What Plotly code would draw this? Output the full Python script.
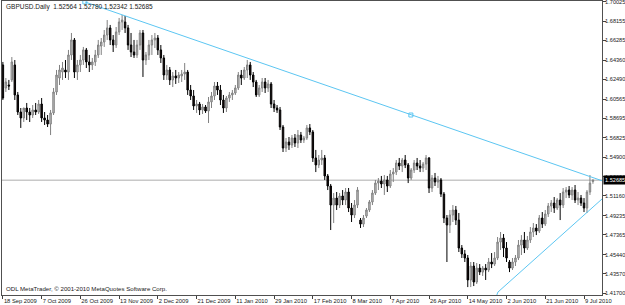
import plotly.graph_objects as go

# ---- data (GBPUSD daily) ----
opens = [1.6390,1.6166,1.6195,1.6244,1.6390,1.6098,1.5932,1.5874,1.5971,1.5932,
         1.5903,1.5952,1.5932,1.6010,1.5874,1.5854,1.5815,1.5923,1.6127,1.6263,
         1.6321,1.6341,1.6321,1.6487,1.6633,1.6321,1.6390,1.6438,1.6536,1.6419,
         1.6390,1.6419,1.6487,1.6574,1.6613,1.6681,1.6750,1.6633,1.6584,1.6711,
         1.6808,1.6808,1.6750,1.6584,1.6516,1.6487,1.6584,1.6701,1.6438,1.6487,
         1.6584,1.6633,1.6652,1.6536,1.6458,1.6292,1.6341,1.6244,1.6283,1.6263,
         1.6283,1.6302,1.6321,1.6146,1.6088,1.5991,1.6010,1.5952,1.5981,1.5942,
         1.6030,1.6088,1.6185,1.6146,1.6049,1.5971,1.6068,1.6098,1.6117,1.6166,
         1.6292,1.6263,1.6341,1.6390,1.6292,1.6224,1.6098,1.6166,1.6224,1.6166,
         1.6205,1.6010,1.5971,1.5952,1.5786,1.5582,1.5640,1.5611,1.5679,1.5631,
         1.5708,1.5660,1.5679,1.5777,1.5738,1.5485,1.5417,1.5465,1.5485,1.5310,
         1.5212,1.5027,1.5095,1.5027,1.5115,1.5076,1.5154,1.4998,1.4930,1.5027,
         1.4881,1.4842,1.4920,1.4979,1.5057,1.5144,1.5241,1.5261,1.5232,1.5271,
         1.5212,1.5329,1.5348,1.5436,1.5407,1.5465,1.5417,1.5290,1.5368,1.5436,
         1.5407,1.5387,1.5426,1.5485,1.5193,1.5290,1.5251,1.5271,1.5134,1.4901,
         1.4833,1.4930,1.4979,1.4881,1.4609,1.4551,1.4512,1.4298,1.4434,1.4278,
         1.4414,1.4375,1.4414,1.4395,1.4473,1.4453,1.4512,1.4667,1.4706,1.4609,
         1.4473,1.4414,1.4473,1.4512,1.4638,1.4687,1.4609,1.4687,1.4765,1.4804,
         1.4774,1.4901,1.4842,1.4940,1.5018,1.5047,1.4998,1.5076,1.5027,1.5154,
         1.5173,1.5125,1.5173,1.5076,1.5095,1.5047,1.4998,1.5154,1.52564]
highs = [1.6419,1.6263,1.6244,1.6467,1.6438,1.6127,1.5971,1.5952,1.6020,1.5971,
         1.6000,1.6020,1.6049,1.6068,1.5932,1.5903,1.5952,1.6166,1.6341,1.6390,
         1.6419,1.6438,1.6536,1.6701,1.6652,1.6438,1.6487,1.6565,1.6555,1.6487,
         1.6458,1.6536,1.6633,1.6652,1.6730,1.6827,1.6779,1.6681,1.6759,1.6847,
         1.6876,1.6866,1.6779,1.6701,1.6633,1.6633,1.6730,1.6730,1.6516,1.6633,
         1.6681,1.6701,1.6681,1.6584,1.6487,1.6390,1.6370,1.6321,1.6341,1.6321,
         1.6341,1.6409,1.6341,1.6195,1.6146,1.6049,1.6030,1.6010,1.6000,1.6078,
         1.6127,1.6224,1.6224,1.6195,1.6098,1.6088,1.6127,1.6146,1.6195,1.6321,
         1.6341,1.6370,1.6438,1.6419,1.6321,1.6244,1.6195,1.6263,1.6263,1.6244,
         1.6224,1.6049,1.6000,1.5981,1.5806,1.5679,1.5689,1.5708,1.5718,1.5757,
         1.5738,1.5699,1.5806,1.5815,1.5757,1.5563,1.5514,1.5563,1.5514,1.5329,
         1.5232,1.5144,1.5154,1.5144,1.5173,1.5193,1.5193,1.5047,1.5076,1.5202,
         1.4901,1.4930,1.4998,1.5076,1.5173,1.5271,1.5290,1.5310,1.5319,1.5310,
         1.5368,1.5387,1.5465,1.5485,1.5485,1.5514,1.5436,1.5387,1.5465,1.5485,
         1.5465,1.5446,1.5514,1.5494,1.5319,1.5339,1.5310,1.5290,1.5154,1.4930,
         1.4979,1.5027,1.5018,1.4950,1.4638,1.4590,1.4541,1.4473,1.4473,1.4463,
         1.4453,1.4434,1.4453,1.4512,1.4560,1.4570,1.4716,1.4765,1.4745,1.4667,
         1.4492,1.4512,1.4541,1.4687,1.4735,1.4765,1.4726,1.4813,1.4852,1.4842,
         1.4930,1.4959,1.4979,1.5047,1.5076,1.5105,1.5095,1.5144,1.5193,1.5202,
         1.5212,1.5202,1.5222,1.5154,1.5125,1.5095,1.5173,1.5319,1.52780]
lows = [1.6049,1.6127,1.6146,1.6224,1.6049,1.5903,1.5777,1.5835,1.5854,1.5835,
        1.5874,1.5903,1.5913,1.5835,1.5806,1.5786,1.5708,1.5903,1.6098,1.6195,
        1.6244,1.6263,1.6244,1.6438,1.6263,1.6244,1.6321,1.6390,1.6360,1.6321,
        1.6341,1.6380,1.6458,1.6487,1.6565,1.6633,1.6584,1.6516,1.6555,1.6681,
        1.6730,1.6701,1.6536,1.6467,1.6458,1.6458,1.6536,1.6273,1.6390,1.6438,
        1.6487,1.6555,1.6487,1.6409,1.6244,1.6244,1.6195,1.6175,1.6205,1.6214,
        1.6224,1.6244,1.6098,1.6049,1.5952,1.5923,1.5903,1.5913,1.5923,1.5825,
        1.5971,1.6049,1.6098,1.6000,1.5923,1.5932,1.6030,1.6049,1.6098,1.6146,
        1.6195,1.6244,1.6263,1.6244,1.6175,1.6078,1.6078,1.6127,1.6117,1.6127,
        1.5971,1.5932,1.5923,1.5757,1.5543,1.5543,1.5563,1.5582,1.5592,1.5582,
        1.5631,1.5631,1.5660,1.5708,1.5446,1.5348,1.5387,1.5417,1.5271,1.5173,
        1.4784,1.4852,1.4979,1.4998,1.5027,1.5027,1.4959,1.4862,1.4901,1.4998,
        1.4804,1.4813,1.4901,1.4959,1.5027,1.5125,1.5173,1.5193,1.5125,1.5154,
        1.5193,1.5251,1.5319,1.5368,1.5348,1.5387,1.5241,1.5271,1.5339,1.5368,
        1.5348,1.5348,1.5368,1.5144,1.5154,1.5212,1.5193,1.5105,1.4852,1.4473,
        1.4755,1.4862,1.4833,1.4570,1.4512,1.4473,1.4229,1.4229,1.4239,1.4259,
        1.4346,1.4337,1.4298,1.4375,1.4414,1.4434,1.4492,1.4590,1.4521,1.4473,
        1.4375,1.4395,1.4434,1.4492,1.4541,1.4560,1.4590,1.4658,1.4716,1.4735,
        1.4755,1.4804,1.4823,1.4911,1.4959,1.4950,1.4979,1.4881,1.4998,1.5095,
        1.5095,1.5076,1.5047,1.5027,1.5018,1.4959,1.4950,1.5125,1.52342]
closes = [1.6068,1.6224,1.6185,1.6419,1.6098,1.5932,1.5874,1.5971,1.5932,1.5903,
          1.5952,1.5932,1.6010,1.5874,1.5854,1.5815,1.5923,1.6127,1.6292,1.6341,
          1.6360,1.6321,1.6487,1.6633,1.6321,1.6390,1.6438,1.6536,1.6419,1.6390,
          1.6419,1.6487,1.6584,1.6613,1.6681,1.6750,1.6633,1.6584,1.6711,1.6808,
          1.6827,1.6750,1.6584,1.6516,1.6487,1.6584,1.6701,1.6438,1.6487,1.6584,
          1.6633,1.6652,1.6536,1.6458,1.6292,1.6341,1.6244,1.6283,1.6263,1.6292,
          1.6302,1.6321,1.6146,1.6088,1.5991,1.6010,1.5952,1.5981,1.5942,1.6030,
          1.6088,1.6185,1.6146,1.6049,1.5971,1.6068,1.6098,1.6117,1.6166,1.6292,
          1.6263,1.6341,1.6390,1.6292,1.6224,1.6098,1.6166,1.6224,1.6166,1.6205,
          1.6010,1.5971,1.5952,1.5786,1.5582,1.5640,1.5611,1.5679,1.5631,1.5708,
          1.5660,1.5679,1.5777,1.5738,1.5485,1.5417,1.5465,1.5485,1.5310,1.5212,
          1.5027,1.5095,1.5027,1.5115,1.5076,1.5154,1.4998,1.4930,1.5027,1.5173,
          1.4842,1.4901,1.4979,1.5057,1.5144,1.5241,1.5261,1.5232,1.5271,1.5212,
          1.5329,1.5348,1.5436,1.5407,1.5465,1.5417,1.5290,1.5368,1.5436,1.5407,
          1.5387,1.5426,1.5485,1.5193,1.5290,1.5251,1.5271,1.5134,1.4901,1.4833,
          1.4930,1.4979,1.4881,1.4609,1.4551,1.4512,1.4298,1.4434,1.4278,1.4414,
          1.4375,1.4414,1.4395,1.4473,1.4453,1.4512,1.4667,1.4706,1.4609,1.4512,
          1.4414,1.4473,1.4512,1.4638,1.4687,1.4609,1.4687,1.4765,1.4804,1.4774,
          1.4901,1.4842,1.4940,1.5018,1.5047,1.4998,1.5076,1.5027,1.5154,1.5173,
          1.5125,1.5173,1.5076,1.5095,1.5047,1.4998,1.5154,1.5241,1.52685]

date_ticks = [0, 13, 26, 39, 52, 65, 78, 91, 104, 117, 130, 143, 156, 169, 182, 195]
date_labels = ["18 Sep 2009", "7 Oct 2009", "26 Oct 2009", "13 Nov 2009", "2 Dec 2009",
               "21 Dec 2009", "11 Jan 2010", "29 Jan 2010", "17 Feb 2010", "8 Mar 2010",
               "7 Apr 2010", "26 Apr 2010", "14 May 2010", "2 Jun 2010", "21 Jun 2010",
               "9 Jul 2010"]
price_ticks = [1.70025, 1.68155, 1.66285, 1.64360, 1.62490, 1.60565, 1.58695, 1.56825,
               1.54900, 1.53030, 1.51160, 1.49235, 1.47365, 1.45440, 1.43570, 1.41700]
price_labels = ["%.5f" % v for v in price_ticks]

last_price = 1.52685
header = "GBPUSD.Daily  1.52564 1.52780 1.52342 1.52685"
copyright_text = "ODL MetaTrader, \u00a9 2001-2010 MetaQuotes Software Corp."

# trend lines (bar index, price)
trend1_x = [27.5, 136.9, 246.3]
trend1_y = [1.7003, 1.5903, 1.4810]
trend2_x = [160.0, 166.1, 212.0]
trend2_y = [1.3680, 1.4180, 1.5370]

bars = list(range(len(closes)))
FONT = "Liberation Sans"
BLUE = "#5cc6f2"
TXT = "#202020"

fig = go.Figure()
fig.add_trace(go.Candlestick(
    x=bars, open=opens, high=highs, low=lows, close=closes,
    increasing=dict(line=dict(color="#808080", width=1), fillcolor="#c4c4c4"),
    decreasing=dict(line=dict(color="#000000", width=1), fillcolor="#1c0c0c"),
    whiskerwidth=0, hoverinfo="skip", showlegend=False))

fig.add_trace(go.Scatter(x=trend1_x, y=trend1_y, mode="lines+markers",
                         line=dict(color=BLUE, width=1),
                         marker=dict(symbol="square-open", size=4, color=BLUE),
                         hoverinfo="skip", showlegend=False))
fig.add_trace(go.Scatter(x=trend2_x, y=trend2_y, mode="lines",
                         line=dict(color=BLUE, width=1),
                         hoverinfo="skip", showlegend=False))

fig.add_shape(type="line", xref="paper", x0=0, x1=1, yref="y", y0=last_price, y1=last_price,
              line=dict(color="#c8c8c8", width=1.5), layer="below")

fig.add_annotation(xref="paper", yref="paper", x=0.004, y=0.978, xanchor="left", yanchor="middle",
                   text=header, showarrow=False, font=dict(family=FONT, size=6.5, color=TXT))
fig.add_annotation(xref="paper", yref="paper", x=0.004, y=0.022, xanchor="left", yanchor="middle",
                   text=copyright_text, showarrow=False, font=dict(family=FONT, size=6.1, color=TXT))
fig.add_annotation(xref="paper", yref="y", x=1.002, y=last_price, xanchor="left", yanchor="middle",
                   text="1.52685", showarrow=False, bgcolor="#000000", borderpad=1,
                   font=dict(family=FONT, size=5.6, color="#ffffff"))

fig.update_layout(
    width=625, height=305,
    margin=dict(l=2, r=23, t=1, b=10, autoexpand=False),
    paper_bgcolor="white", plot_bgcolor="white",
    showlegend=False, hovermode=False,
    xaxis=dict(range=[-0.3, 201.04], tickvals=date_ticks, ticktext=date_labels,
               ticklabelposition="outside right", ticks="outside", ticklen=3, tickangle=0,
               tickcolor="#404040", showgrid=False, zeroline=False, automargin=False,
               showline=True, linecolor="#505050", linewidth=1, mirror=True,
               rangeslider=dict(visible=False), tickfont=dict(family=FONT, size=5.8, color=TXT),
               fixedrange=True),
    yaxis=dict(range=[1.4152, 1.7012], side="right", tickvals=price_ticks, ticktext=price_labels,
               ticks="outside", ticklen=3, tickcolor="#404040", showgrid=False, zeroline=False,
               automargin=False, showline=True, linecolor="#505050", linewidth=1, mirror=True,
               ticklabelstandoff=-2, ticklabeloverflow="allow",
               tickfont=dict(family=FONT, size=5.6, color=TXT), fixedrange=True),
)

fig.write_html("out.html", config={"displayModeBar": False})
